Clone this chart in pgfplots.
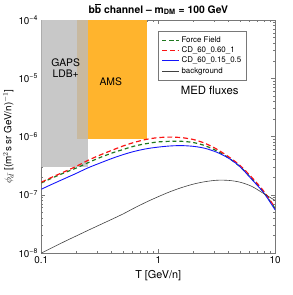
\documentclass[border=0pt]{standalone}
\usepackage{amsmath}
\usepackage{fontspec}
\setmainfont{TeX Gyre Heros}
\setsansfont{TeX Gyre Heros}
\usepackage{pgfplots}
\usepackage{pgfplotstable}
\pgfplotsset{compat=1.18}
\definecolor{gapsgray}{RGB}{200,200,200}
\definecolor{amsorange}{RGB}{255,180,45}
\definecolor{overlaptan}{RGB}{200,185,160}
\definecolor{ffgreen}{RGB}{30,120,30}
\definecolor{cdred}{RGB}{250,20,20}
\definecolor{cdblue}{RGB}{20,20,250}
\definecolor{framegray}{RGB}{120,120,120}

\pgfplotstableread{
T      ff       red      blue     bg
0.1    1.60e-7  1.65e-7  1.25e-7  1.00e-8
0.126  1.98e-7  2.05e-7  1.55e-7  1.26e-8
0.158  2.40e-7  2.50e-7  1.90e-7  1.58e-8
0.2    2.90e-7  3.10e-7  2.35e-7  1.98e-8
0.25   3.55e-7  3.90e-7  2.90e-7  2.45e-8
0.316  4.35e-7  4.80e-7  3.50e-7  3.05e-8
0.4    5.20e-7  5.80e-7  4.20e-7  3.80e-8
0.5    6.00e-7  6.90e-7  4.90e-7  4.70e-8
0.63   6.90e-7  8.00e-7  5.60e-7  6.00e-8
0.8    7.60e-7  9.00e-7  6.20e-7  7.60e-8
1.0    8.10e-7  9.60e-7  6.60e-7  9.30e-8
1.26   8.30e-7  9.80e-7  6.90e-7  1.13e-7
1.58   8.30e-7  9.60e-7  7.00e-7  1.33e-7
2.0    7.90e-7  8.90e-7  6.80e-7  1.53e-7
2.5    7.00e-7  7.70e-7  6.30e-7  1.68e-7
3.16   5.70e-7  6.10e-7  5.40e-7  1.78e-7
4.0    4.30e-7  4.50e-7  4.25e-7  1.77e-7
5.0    3.05e-7  3.20e-7  3.05e-7  1.65e-7
6.3    1.90e-7  2.00e-7  1.85e-7  1.40e-7
8.0    1.10e-7  1.15e-7  1.08e-7  1.05e-7
10.0   5.80e-8  6.00e-8  5.50e-8  8.00e-8
}\fluxes

\begin{document}
\begin{tikzpicture}
\begin{axis}[
  scale only axis,
  width=236bp, height=235.2bp,
  xmode=log, ymode=log,
  xmin=0.1, xmax=10, ymin=1e-8, ymax=1e-4,
  axis line style={framegray, line width=1pt},
  every tick/.style={framegray, line width=0.6pt},
  tick align=inside,
  major tick length=4bp, minor tick length=2bp,
  xtick={0.1,1,10}, xticklabels={0.1,1,10},
  minor xtick={0.2,0.3,0.4,0.5,0.6,0.7,0.8,0.9,2,3,4,5,6,7,8,9},
  ytick={1e-8,1e-7,1e-6,1e-5,1e-4},
  yticklabels={10\textsuperscript{−8},10\textsuperscript{−7},10\textsuperscript{−6},10\textsuperscript{−5},10\textsuperscript{−4}},
  minor ytick={2e-8,3e-8,4e-8,5e-8,6e-8,7e-8,8e-8,9e-8,2e-7,3e-7,4e-7,5e-7,6e-7,7e-7,8e-7,9e-7,2e-6,3e-6,4e-6,5e-6,6e-6,7e-6,8e-6,9e-6,2e-5,3e-5,4e-5,5e-5,6e-5,7e-5,8e-5,9e-5},
  tick label style={font=\fontsize{10}{12}\selectfont},
  xlabel={T [GeV/n]},
  ylabel={$\phi_{\bar{d}}$ [(m$^2$s sr GeV/n)$^{-1}$]},
  xlabel style={font=\fontsize{11}{13}\selectfont},
  ylabel style={font=\fontsize{10}{12}\selectfont, yshift=-2bp},
  title={\textbf{b$\overline{\text{\textbf{b}}}$ channel – m$_{\text{\textbf{DM}}}$ = 100 GeV}},
  title style={font=\fontsize{10.5}{12}\selectfont, yshift=-4bp},
  legend style={at={(0.498,0.954)}, anchor=north west, draw=framegray, line width=0.6pt,
    font=\fontsize{8}{9.5}\selectfont, row sep=-1bp, inner sep=3.5bp},
  legend cell align=left,
  clip=true,
]
\addplot[fill=gapsgray, draw=none, forget plot] coordinates {(0.1,3e-7) (0.25,3e-7) (0.25,1e-4) (0.1,1e-4)} -- cycle;
\addplot[fill=amsorange, draw=none, forget plot] coordinates {(0.2,9e-7) (0.8,9e-7) (0.8,1e-4) (0.2,1e-4)} -- cycle;
\addplot[fill=overlaptan, draw=none, forget plot] coordinates {(0.2,9e-7) (0.25,9e-7) (0.25,1e-4) (0.2,1e-4)} -- cycle;

\addplot[ffgreen, line width=1.2pt, dash pattern=on 4bp off 3bp, smooth] table[x=T,y=ff] {\fluxes};
\addlegendentry{Force Field}
\addplot[cdred, line width=1.2pt, dash pattern=on 5bp off 3bp, smooth] table[x=T,y=red] {\fluxes};
\addlegendentry{CD\_60\_0.60\_1}
\addplot[cdblue, line width=0.9pt, smooth] table[x=T,y=blue] {\fluxes};
\addlegendentry{CD\_60\_0.15\_0.5}
\addplot[black!75, line width=0.6pt, smooth] table[x=T,y=bg] {\fluxes};
\addlegendentry{background}

\node[font=\fontsize{10.5}{12}\selectfont, align=center] at (rel axis cs:0.104,0.794) {GAPS\\[-1pt]LDB+};
\node[font=\fontsize{10.5}{12}\selectfont] at (rel axis cs:0.297,0.734) {AMS};
\node[font=\fontsize{11.5}{13}\selectfont] at (rel axis cs:0.72,0.700) {MED fluxes};
\end{axis}
\path ([shift={(-41.7bp,-42.3bp)}]current axis.south west) rectangle ([shift={(17.3bp,17.5bp)}]current axis.north east);
\end{tikzpicture}
\end{document}
